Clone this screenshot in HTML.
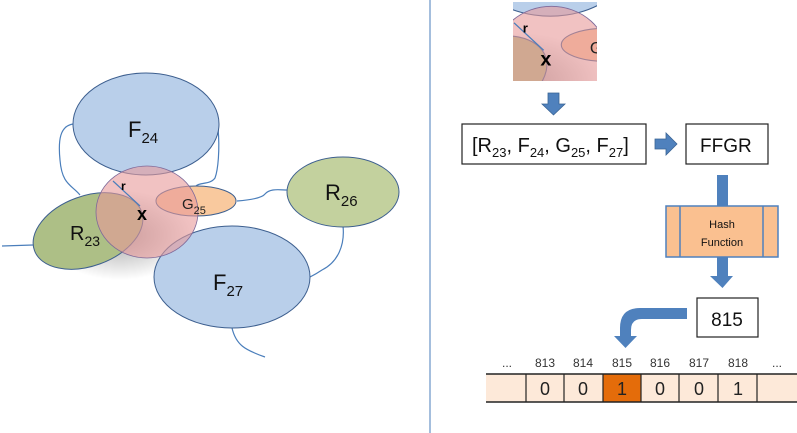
<!DOCTYPE html>
<html><head><meta charset="utf-8"><style>
html,body{margin:0;padding:0;background:#fff;}
svg{display:block;font-family:"Liberation Sans",sans-serif;}
</style></head><body>
<svg width="797" height="433" viewBox="0 0 797 433" xmlns="http://www.w3.org/2000/svg">
<defs>
<radialGradient id="sh" cx="0.5" cy="0.5" r="0.5">
<stop offset="0" stop-color="#000" stop-opacity="0.35"/>
<stop offset="1" stop-color="#000" stop-opacity="0"/>
</radialGradient>
<clipPath id="thumb"><rect x="513" y="2" width="84" height="79"/></clipPath>
<g id="scene">
<g fill="none" stroke="#4a7ebb" stroke-width="1.2">
<path d="M33 245 L2 246"/>
<path d="M73 124 C60 126 58 140 60 160 C62 185 72 185 80 195"/>
<path d="M218 128 C220 150 218 170 215 178 C210 185 200 182 196 186"/>
<path d="M237 201 C250 200 262 198 265 194 C270 188 280 190 287 190"/>
<path d="M343 226 C345 245 338 262 322 270 C316 274 312 276 310 277"/>
<path d="M232 328 C236 345 245 350 265 357"/>
</g>
<ellipse cx="120" cy="235" rx="75" ry="45" fill="url(#sh)"/>
<ellipse cx="146" cy="124" rx="73" ry="51" fill="#b9cfea" stroke="#3d5f8f" stroke-width="1"/>
<ellipse cx="343" cy="192" rx="56" ry="35" fill="#c3d19e" stroke="#3d5f8f" stroke-width="1"/>
<ellipse cx="88" cy="231" rx="57" ry="35" transform="rotate(-20 88 231)" fill="#adbf86" stroke="#3d5f8f" stroke-width="1"/>
<ellipse cx="232" cy="277" rx="78" ry="51" fill="#b9cfea" stroke="#3d5f8f" stroke-width="1"/>
<ellipse cx="196" cy="201" rx="40" ry="15" fill="#f9c99e" stroke="#3d5f8f" stroke-width="1"/>
<ellipse cx="147" cy="212" rx="51" ry="46" fill="#e89a9a" fill-opacity="0.6" stroke="#7f6a9a" stroke-width="0.8"/>
<line x1="113" y1="181" x2="140" y2="206" stroke="#4a7ebb" stroke-width="1.2"/>
<text x="121" y="190" font-size="12" font-weight="bold" fill="#000">r</text>
<text x="137" y="220" font-size="18" font-weight="bold" fill="#000">x</text>
<text x="182" y="209" font-size="15" fill="#222">G<tspan font-size="11" dy="5">25</tspan></text>
<text x="70" y="240" font-size="20" fill="#111">R<tspan font-size="14" dy="6">23</tspan></text>
<text x="128" y="137" font-size="22" fill="#111">F<tspan font-size="15" dy="6">24</tspan></text>
<text x="325" y="200" font-size="22" fill="#111">R<tspan font-size="15" dy="6">26</tspan></text>
<text x="213" y="290" font-size="22" fill="#111">F<tspan font-size="15" dy="6">27</tspan></text>
</g>
</defs>
<use href="#scene"/>
<line x1="430" y1="0" x2="430" y2="433" stroke="#4a7ebb" stroke-width="1"/>
<g clip-path="url(#thumb)"><rect x="513" y="2" width="84" height="79" fill="#fff"/><use href="#scene" transform="translate(389.7,-176.3) scale(1.1)"/></g>
<!-- down arrow -->
<path d="M548 93 H559 V104 H565 L553.5 115 L542 104 H548 Z" fill="#4f81bd" stroke="#3a6494" stroke-width="0.8"/>
<rect x="462" y="124" width="184" height="40" fill="#fff" stroke="#222" stroke-width="1.2"/>
<text x="472" y="152" font-size="20" fill="#111">[R<tspan font-size="13" dy="5">23</tspan><tspan dy="-5">, F</tspan><tspan font-size="13" dy="5">24</tspan><tspan dy="-5">, G</tspan><tspan font-size="13" dy="5">25</tspan><tspan dy="-5">, F</tspan><tspan font-size="13" dy="5">27</tspan><tspan dy="-5">]</tspan></text>
<path d="M655 139 H666 V133 L677 144 L666 155 V149 H655 Z" fill="#4f81bd" stroke="#3a6494" stroke-width="0.8"/>
<rect x="686" y="124" width="82" height="40" fill="#fff" stroke="#222" stroke-width="1.2"/>
<text x="700" y="152" font-size="19" fill="#111">FFGR</text>
<rect x="717" y="175" width="11" height="31" fill="#4f81bd"/>
<rect x="666" y="206" width="112" height="51" fill="#fac090" stroke="#4f81bd" stroke-width="1.5"/>
<line x1="680" y1="206" x2="680" y2="257" stroke="#4f81bd" stroke-width="1.5"/>
<line x1="763" y1="206" x2="763" y2="257" stroke="#4f81bd" stroke-width="1.5"/>
<text x="722" y="228" font-size="11" text-anchor="middle" fill="#111">Hash</text>
<text x="722" y="246" font-size="11" text-anchor="middle" fill="#111">Function</text>
<path d="M717 257 H728 V276 H733 L722.5 288 L710 276 H717 Z" fill="#4f81bd"/>
<rect x="697" y="298" width="61" height="39" fill="#fff" stroke="#222" stroke-width="1.2"/>
<text x="727" y="326" font-size="19" text-anchor="middle" fill="#111">815</text>
<path d="M687 308 H640 Q620 308 620 328 V336 H614 L625.5 348 L637 336 H631 V330 Q631 319 642 319 H687 Z" fill="#4f81bd"/>
<g font-size="12" fill="#333" text-anchor="middle">
<text x="507" y="367">...</text><text x="545" y="367">813</text><text x="583" y="367">814</text><text x="622" y="367">815</text><text x="660" y="367">816</text><text x="699" y="367">817</text><text x="738" y="367">818</text><text x="777" y="367">...</text>
</g>
<rect x="486" y="374" width="311" height="28" fill="#fde9d9"/>
<rect x="603" y="374" width="38" height="28" fill="#e46c0a"/>
<line x1="486" y1="374" x2="797" y2="374" stroke="#222" stroke-width="1.5"/>
<line x1="486" y1="402" x2="797" y2="402" stroke="#222" stroke-width="1.5"/>
<g stroke="#222" stroke-width="1.2">
<line x1="526" y1="374" x2="526" y2="402"/><line x1="564" y1="374" x2="564" y2="402"/><line x1="603" y1="374" x2="603" y2="402"/><line x1="641" y1="374" x2="641" y2="402"/><line x1="679" y1="374" x2="679" y2="402"/><line x1="718" y1="374" x2="718" y2="402"/><line x1="757" y1="374" x2="757" y2="402"/>
</g>
<g font-size="18" fill="#222" text-anchor="middle">
<text x="545" y="395">0</text><text x="583" y="395">0</text><text x="622" y="395">1</text><text x="660" y="395">0</text><text x="699" y="395">0</text><text x="738" y="395">1</text>
</g>
</svg>
</body></html>
